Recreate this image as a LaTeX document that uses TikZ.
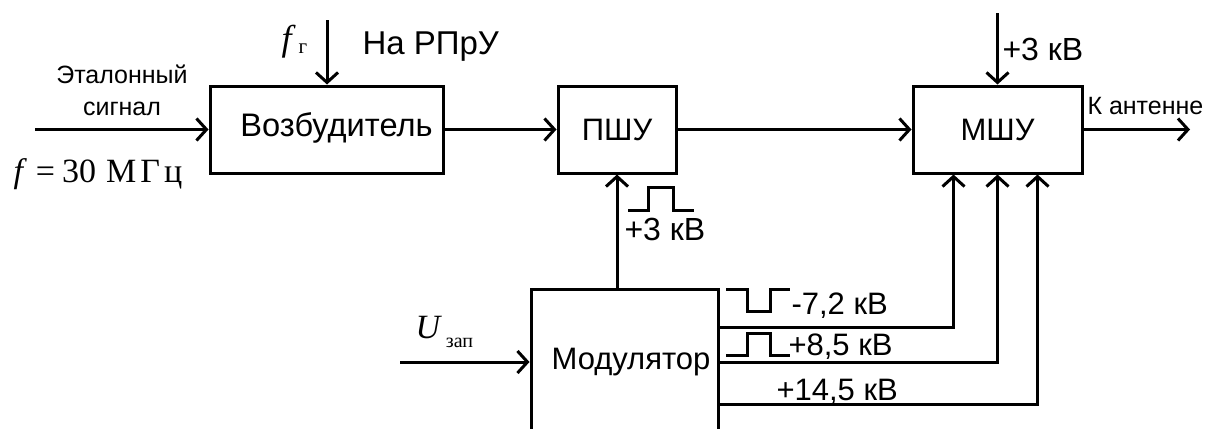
\documentclass[tikz,border=0pt]{standalone}
\usepackage{fontspec}
\setmainfont{Liberation Sans}
\newfontfamily\tms{Liberation Serif}
\usetikzlibrary{arrows.meta}
\begin{document}
\begin{tikzpicture}[x=0.5pt,y=-0.5pt, line width=1.5pt,
  arr/.style={-{Straight Barb[length=5pt,width=11pt,line width=1.5pt]}},
  box/.style={draw, line width=1.5pt, inner sep=0pt, font=\fontsize{15.5}{18}\selectfont},
  lbl/.style={inner sep=0pt, font=\fontsize{15.5}{18}\selectfont},
  slbl/.style={inner sep=0pt, font=\fontsize{12.5}{15}\selectfont},
  mth/.style={inner sep=0pt, font=\tms\fontsize{17}{20}\selectfont},
  wave/.style={line width=1.5pt, line join=miter}]
\useasboundingbox (0,0) rectangle (1224,428);
\clip (0,0) rectangle (1224,428);
% blocks
\node[box, minimum width=116.5pt, minimum height=43.5pt] (vozb) at (326.5,129.5) {};
\node[lbl, font=\fontsize{16.3}{19}\selectfont] (vozbt) at ([xshift=5pt,yshift=1pt]vozb.center) {Возбудитель};
\node[box, minimum width=59pt, minimum height=43.5pt] (pshu) at (617,129.5) {ПШУ};
\node[box, minimum width=84.5pt, minimum height=43.5pt] (mshu) at (997.5,129.5) {МШУ};
\node[box, minimum width=93.5pt, minimum height=73pt] (mod) at (624.5,362) {};
\node[lbl] (modt) at ([xshift=3.25pt]mod.center) {Модулятор};
% free ends
\coordinate (in1) at (35,129.5);
\coordinate (fgtop) at (327,20);
\coordinate (out) at (1190,129.5);
\coordinate (pwr) at (997.5,13);
\coordinate (uin) at (400,362);
\path (mshu.south west) ++(42,0) coordinate (s1);
\path (mshu.south west) ++(86,0) coordinate (s2);
\path (mshu.south west) ++(126,0) coordinate (s3);
% connectors
\draw[arr] (in1) -- (vozb.west);
\draw[arr] (fgtop) -- (vozb.north -| fgtop);
\draw[arr] (vozb) -- (pshu);
\draw[arr] (pshu) -- (mshu);
\draw[arr] (mshu) -- (out);
\draw[arr] (pwr) -- (mshu.north);
\draw[arr] (mod.north -| pshu.south) -- (pshu.south);
\draw[arr] (uin) -- (mod.west);
\draw[arr] ([yshift=17.5pt]mod.east) -| (s1);
\draw[arr] (mod.east) -| (s2);
\draw[arr] ([yshift=-21pt]mod.east) -| (s3);
% pulse waveforms
\draw[wave] (628,210) -- (648,210) -- (648,187) -- (673,187) -- (673,210) -- (694,210);
\draw[wave] (726,289) -- (747,289) -- (747,311) -- (770,311) -- (770,289) -- (790,289);
\draw[wave] (726,355) -- (747,355) -- (747,333) -- (770,333) -- (770,355) -- (790,355);
% labels
\node[lbl, anchor=base west, font=\fontsize{16}{18}\selectfont] (l3a) at (623,240) {+3 кВ};
\node[lbl, anchor=base west, font=\fontsize{16}{18}\selectfont] (l3b) at (1001,60) {+3 кВ};
\node[slbl, anchor=base west] (lant) at (1086,114) {К антенне};
\node[lbl, anchor=base west, font=\fontsize{16.5}{18}\selectfont] (lrpru) at (361,54) {На РПрУ};
\node[lbl, anchor=base west] (l72) at (790,314) {-7,2 кВ};
\node[lbl, anchor=base west] (l85) at (787,355) {+8,5 кВ};
\node[lbl, anchor=base west] (l145) at (775,400) {+14,5 кВ};
\node[slbl, anchor=base] (let) at (122,83) {Эталонный};
\node[slbl, anchor=base] (lsig) at (122,115) {сигнал};
\node[mth, anchor=base west] (lf) at (12,182) {\textit{f}\hspace{4.5pt}=\hspace{3.5pt}30\hspace{5pt}{\addfontfeatures{LetterSpace=12}МГц}};
\node[mth, anchor=base west, font=\tms\fontsize{18}{20}\selectfont] (lfg) at (280,50) {\textit{f}\raisebox{-1.5pt}{\fontsize{10.5}{11}\selectfont\hspace{1.5pt}г}};
\node[mth, anchor=base west] (lu) at (414,338) {\textit{U}\raisebox{-4.5pt}{\fontsize{10}{11}\selectfont\hspace{2pt}зап}};
\end{tikzpicture}
\end{document}
